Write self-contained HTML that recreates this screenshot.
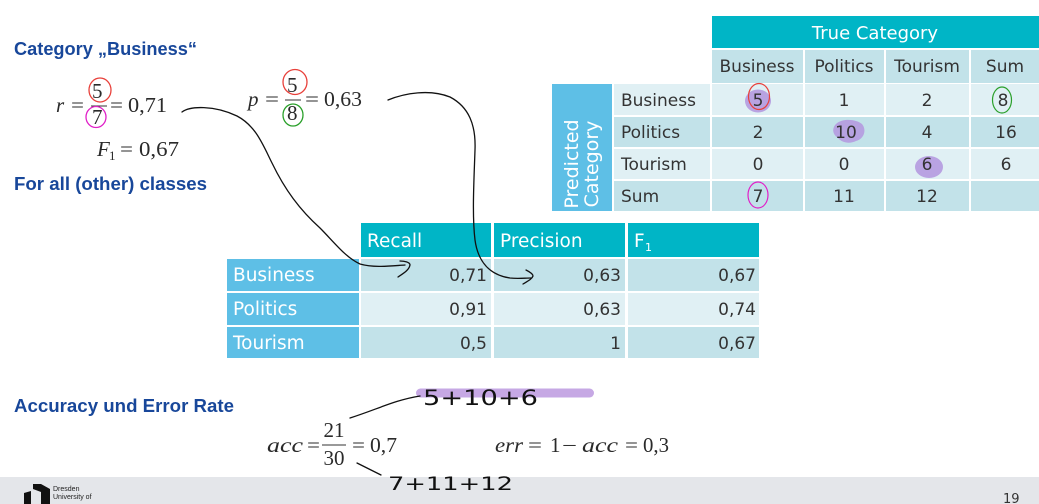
<!DOCTYPE html>
<html><head><meta charset="utf-8"><style>
html,body{margin:0;padding:0;background:#fff;}
svg{display:block;}
.h{font-family:"Liberation Sans",sans-serif;font-weight:bold;fill:#18479a;}
.t{font-family:"DejaVu Sans","Liberation Sans",sans-serif;fill:#333;}
.w{font-family:"DejaVu Sans","Liberation Sans",sans-serif;fill:#fff;}
.m{font-family:"Liberation Serif",serif;fill:#2a2a2a;}
.i{font-style:italic;}
.hw{font-family:"DejaVu Sans","Liberation Sans",sans-serif;fill:#111;font-weight:normal;}
.ink{fill:none;stroke:#111;stroke-width:1.3;stroke-linecap:round;stroke-linejoin:round;}
</style></head><body>
<svg width="1039" height="504" viewBox="0 0 1039 504" xmlns="http://www.w3.org/2000/svg">
<rect x="0" y="0" width="1039" height="504" fill="#fff"/>

<!-- headings -->
<text class="h" x="14" y="55" font-size="18" textLength="183" lengthAdjust="spacingAndGlyphs">Category „Business“</text>
<text class="h" x="14" y="190" font-size="18" textLength="193" lengthAdjust="spacingAndGlyphs">For all (other) classes</text>
<text class="h" x="14" y="412" font-size="18" textLength="220" lengthAdjust="spacingAndGlyphs">Accuracy und Error Rate</text>

<!-- r formula -->
<text class="m i" x="56" y="112" font-size="21">r</text>
<text class="m" x="71" y="112" font-size="20" textLength="13" lengthAdjust="spacingAndGlyphs">=</text>
<text class="m" x="92" y="98" font-size="21">5</text>
<line x1="91" y1="106" x2="107" y2="106" stroke="#333" stroke-width="1"/>
<text class="m" x="92" y="124" font-size="21">7</text>
<text class="m" x="110" y="112" font-size="20" textLength="13" lengthAdjust="spacingAndGlyphs">=</text>
<text class="m" x="128" y="112" font-size="21" textLength="39" lengthAdjust="spacingAndGlyphs">0,71</text>
<ellipse cx="100" cy="90" rx="11" ry="12" fill="none" stroke="#e8403a" stroke-width="1.3"/>
<ellipse cx="96" cy="117" rx="10" ry="10.5" fill="none" stroke="#e020c8" stroke-width="1.3"/>

<!-- F1 -->
<text class="m i" x="97" y="156" font-size="21">F</text>
<text class="m" x="109" y="160" font-size="13">1</text>
<text class="m" x="120" y="156" font-size="20" textLength="13" lengthAdjust="spacingAndGlyphs">=</text>
<text class="m" x="139" y="156" font-size="21" textLength="40" lengthAdjust="spacingAndGlyphs">0,67</text>

<!-- p formula -->
<text class="m i" x="248" y="106" font-size="21">p</text>
<text class="m" x="265" y="106" font-size="20" textLength="14" lengthAdjust="spacingAndGlyphs">=</text>
<text class="m" x="287" y="92" font-size="21">5</text>
<line x1="285" y1="100" x2="301" y2="100" stroke="#333" stroke-width="1"/>
<text class="m" x="287" y="120" font-size="21">8</text>
<text class="m" x="305" y="106" font-size="20" textLength="14" lengthAdjust="spacingAndGlyphs">=</text>
<text class="m" x="324" y="106" font-size="21" textLength="38" lengthAdjust="spacingAndGlyphs">0,63</text>
<ellipse cx="295" cy="82" rx="12" ry="12.5" fill="none" stroke="#e8403a" stroke-width="1.3"/>
<ellipse cx="293" cy="115" rx="10" ry="11" fill="none" stroke="#2aa02a" stroke-width="1.3"/>

<!-- Confusion matrix -->
<rect x="712" y="16" width="327" height="32" fill="#00b5c6"/>
<text class="w" x="875" y="39" font-size="18" text-anchor="middle">True Category</text>
<g fill="#c2e2e9">
<rect x="712" y="50" width="91" height="33"/>
<rect x="805" y="50" width="79" height="33"/>
<rect x="886" y="50" width="83" height="33"/>
<rect x="971" y="50" width="68" height="33"/>
</g>
<rect x="552" y="84" width="60" height="127" fill="#5ebfe6"/>
<g>
<rect x="614" y="84" width="96" height="31" fill="#e0f0f4"/>
<rect x="712" y="84" width="91" height="31" fill="#e0f0f4"/>
<rect x="805" y="84" width="79" height="31" fill="#e0f0f4"/>
<rect x="886" y="84" width="83" height="31" fill="#e0f0f4"/>
<rect x="971" y="84" width="68" height="31" fill="#e0f0f4"/>

<rect x="614" y="117" width="96" height="30" fill="#c2e2e9"/>
<rect x="712" y="117" width="91" height="30" fill="#c2e2e9"/>
<rect x="805" y="117" width="79" height="30" fill="#c2e2e9"/>
<rect x="886" y="117" width="83" height="30" fill="#c2e2e9"/>
<rect x="971" y="117" width="68" height="30" fill="#c2e2e9"/>

<rect x="614" y="149" width="96" height="30" fill="#e0f0f4"/>
<rect x="712" y="149" width="91" height="30" fill="#e0f0f4"/>
<rect x="805" y="149" width="79" height="30" fill="#e0f0f4"/>
<rect x="886" y="149" width="83" height="30" fill="#e0f0f4"/>
<rect x="971" y="149" width="68" height="30" fill="#e0f0f4"/>

<rect x="614" y="181" width="96" height="30" fill="#c2e2e9"/>
<rect x="712" y="181" width="91" height="30" fill="#c2e2e9"/>
<rect x="805" y="181" width="79" height="30" fill="#c2e2e9"/>
<rect x="886" y="181" width="83" height="30" fill="#c2e2e9"/>
<rect x="971" y="181" width="68" height="30" fill="#c2e2e9"/>
</g>
<text class="w" transform="translate(578,164) rotate(-90)" font-size="19" text-anchor="middle">Predicted</text>
<text class="w" transform="translate(598,164) rotate(-90)" font-size="19" text-anchor="middle">Category</text>

<!-- purple highlights -->
<g fill="#b59ce0" opacity="0.92">
<ellipse cx="758" cy="101" rx="13" ry="11.5"/>
<path d="M836,124 C842,118 856,119 862,124 C867,130 864,139 856,141 C850,144 842,143 838,138 C832,134 832,128 836,124 Z"/>
<ellipse cx="929" cy="167" rx="14" ry="11"/>
</g>

<g class="t" font-size="17">
<text x="757" y="72" text-anchor="middle">Business</text>
<text x="844" y="72" text-anchor="middle">Politics</text>
<text x="927" y="72" text-anchor="middle">Tourism</text>
<text x="1005" y="72" text-anchor="middle">Sum</text>

<text x="621" y="106">Business</text>
<text x="621" y="138">Politics</text>
<text x="621" y="170">Tourism</text>
<text x="621" y="202">Sum</text>

<text x="758" y="106" text-anchor="middle">5</text>
<text x="844" y="106" text-anchor="middle">1</text>
<text x="927" y="106" text-anchor="middle">2</text>
<text x="1003" y="106" text-anchor="middle">8</text>

<text x="758" y="138" text-anchor="middle">2</text>
<text x="846" y="138" text-anchor="middle">10</text>
<text x="927" y="138" text-anchor="middle">4</text>
<text x="1006" y="138" text-anchor="middle">16</text>

<text x="758" y="170" text-anchor="middle">0</text>
<text x="844" y="170" text-anchor="middle">0</text>
<text x="927" y="170" text-anchor="middle">6</text>
<text x="1006" y="170" text-anchor="middle">6</text>

<text x="758" y="202" text-anchor="middle">7</text>
<text x="844" y="202" text-anchor="middle">11</text>
<text x="927" y="202" text-anchor="middle">12</text>
</g>
<ellipse cx="759" cy="96.5" rx="10.5" ry="13" fill="none" stroke="#e8403a" stroke-width="1.2"/>
<ellipse cx="1002" cy="100" rx="9.5" ry="13" fill="none" stroke="#2aa02a" stroke-width="1.2"/>
<ellipse cx="758" cy="195" rx="10" ry="13" fill="none" stroke="#e020c8" stroke-width="1.2"/>

<!-- Metrics table -->
<g fill="#00b5c6">
<rect x="361" y="223" width="130" height="34"/>
<rect x="494" y="223" width="131" height="34"/>
<rect x="628" y="223" width="131" height="34"/>
</g>
<g fill="#5ebfe6">
<rect x="227" y="259" width="132" height="32"/>
<rect x="227" y="293" width="132" height="32"/>
<rect x="227" y="327" width="132" height="31"/>
</g>
<g>
<rect x="361" y="259" width="130" height="32" fill="#c2e2e9"/>
<rect x="494" y="259" width="131" height="32" fill="#c2e2e9"/>
<rect x="628" y="259" width="131" height="32" fill="#c2e2e9"/>
<rect x="361" y="293" width="130" height="32" fill="#e0f0f4"/>
<rect x="494" y="293" width="131" height="32" fill="#e0f0f4"/>
<rect x="628" y="293" width="131" height="32" fill="#e0f0f4"/>
<rect x="361" y="327" width="130" height="31" fill="#c2e2e9"/>
<rect x="494" y="327" width="131" height="31" fill="#c2e2e9"/>
<rect x="628" y="327" width="131" height="31" fill="#c2e2e9"/>
</g>
<g class="w" font-size="18.5">
<text x="367" y="247">Recall</text>
<text x="500" y="247">Precision</text>
<text x="634" y="247">F</text>
<text x="645" y="251" font-size="11">1</text>
<text x="233" y="281">Business</text>
<text x="233" y="315">Politics</text>
<text x="233" y="349">Tourism</text>
</g>
<g class="t" font-size="17" text-anchor="end">
<text x="487" y="281">0,71</text>
<text x="621" y="281">0,63</text>
<text x="756" y="281">0,67</text>
<text x="487" y="315">0,91</text>
<text x="621" y="315">0,63</text>
<text x="756" y="315">0,74</text>
<text x="487" y="349">0,5</text>
<text x="621" y="349">1</text>
<text x="756" y="349">0,67</text>
</g>

<!-- handwritten arrows -->
<path class="ink" d="M182,112 C190,106 214,105 237,116 C256,126 263,145 272,163 C285,190 300,210 320,228 C334,242 345,257 360,264 C374,268 390,266 405,265"/>
<path class="ink" d="M400,261 C404,261 410,262 410,265 C409,270 404,273 398,277"/>
<path class="ink" d="M388,100 C405,93 430,89 450,97 C469,107 476,125 475,150 C474,180 472,215 475,240 C478,262 490,275 510,278 C518,279 525,278 531,278"/>
<path class="ink" d="M526,270 C530,272 533,274 533,276 C532,279 528,281 523,284"/>

<!-- accuracy -->
<rect x="416" y="388.5" width="178" height="9" rx="4.5" fill="#c6a8e4"/>
<text class="hw" x="423" y="405" font-size="21" textLength="115" lengthAdjust="spacingAndGlyphs">5+10+6</text>
<path class="ink" d="M350,418 C378,409 395,400 420,396" stroke-width="1.6"/>

<text class="m i" x="267" y="452" font-size="21" textLength="36" lengthAdjust="spacingAndGlyphs">acc</text>
<text class="m" x="307" y="452" font-size="20" textLength="13" lengthAdjust="spacingAndGlyphs">=</text>
<text class="m" x="334" y="437" font-size="21" text-anchor="middle">21</text>
<line x1="322" y1="445" x2="346" y2="445" stroke="#333" stroke-width="1"/>
<text class="m" x="334" y="465" font-size="21" text-anchor="middle">30</text>
<text class="m" x="352" y="452" font-size="20" textLength="13" lengthAdjust="spacingAndGlyphs">=</text>
<text class="m" x="370" y="452" font-size="21" textLength="27" lengthAdjust="spacingAndGlyphs">0,7</text>

<text class="m i" x="495" y="452" font-size="21" textLength="28" lengthAdjust="spacingAndGlyphs">err</text>
<text class="m" x="528" y="452" font-size="20" textLength="14" lengthAdjust="spacingAndGlyphs">=</text>
<text class="m" x="550" y="452" font-size="21">1</text>
<text class="m" x="562" y="452" font-size="20" textLength="15" lengthAdjust="spacingAndGlyphs">−</text>
<text class="m i" x="582" y="452" font-size="21" textLength="36" lengthAdjust="spacingAndGlyphs">acc</text>
<text class="m" x="625" y="452" font-size="20" textLength="13" lengthAdjust="spacingAndGlyphs">=</text>
<text class="m" x="643" y="452" font-size="21" textLength="26" lengthAdjust="spacingAndGlyphs">0,3</text>

<!-- footer -->
<rect x="0" y="477" width="1039" height="27" fill="#e4e6ea"/>
<path class="ink" d="M357,463 L381,475" stroke-width="1.6"/>
<text class="hw" x="388" y="490" font-size="19" textLength="125" lengthAdjust="spacingAndGlyphs">7+11+12</text>

<polygon points="33,484 41,484 50,489 50,504 41,504 41,492 33,489" fill="#111"/>
<polygon points="24,493 31,491 31,504 24,504" fill="#111"/>
<text x="53" y="491" font-family="Liberation Sans, sans-serif" font-size="7" fill="#222">Dresden</text>
<text x="53" y="499" font-family="Liberation Sans, sans-serif" font-size="7" fill="#222">University of</text>
<text x="1003" y="503" font-family="DejaVu Sans, sans-serif" font-size="13" fill="#333">19</text>
</svg>
</body></html>
